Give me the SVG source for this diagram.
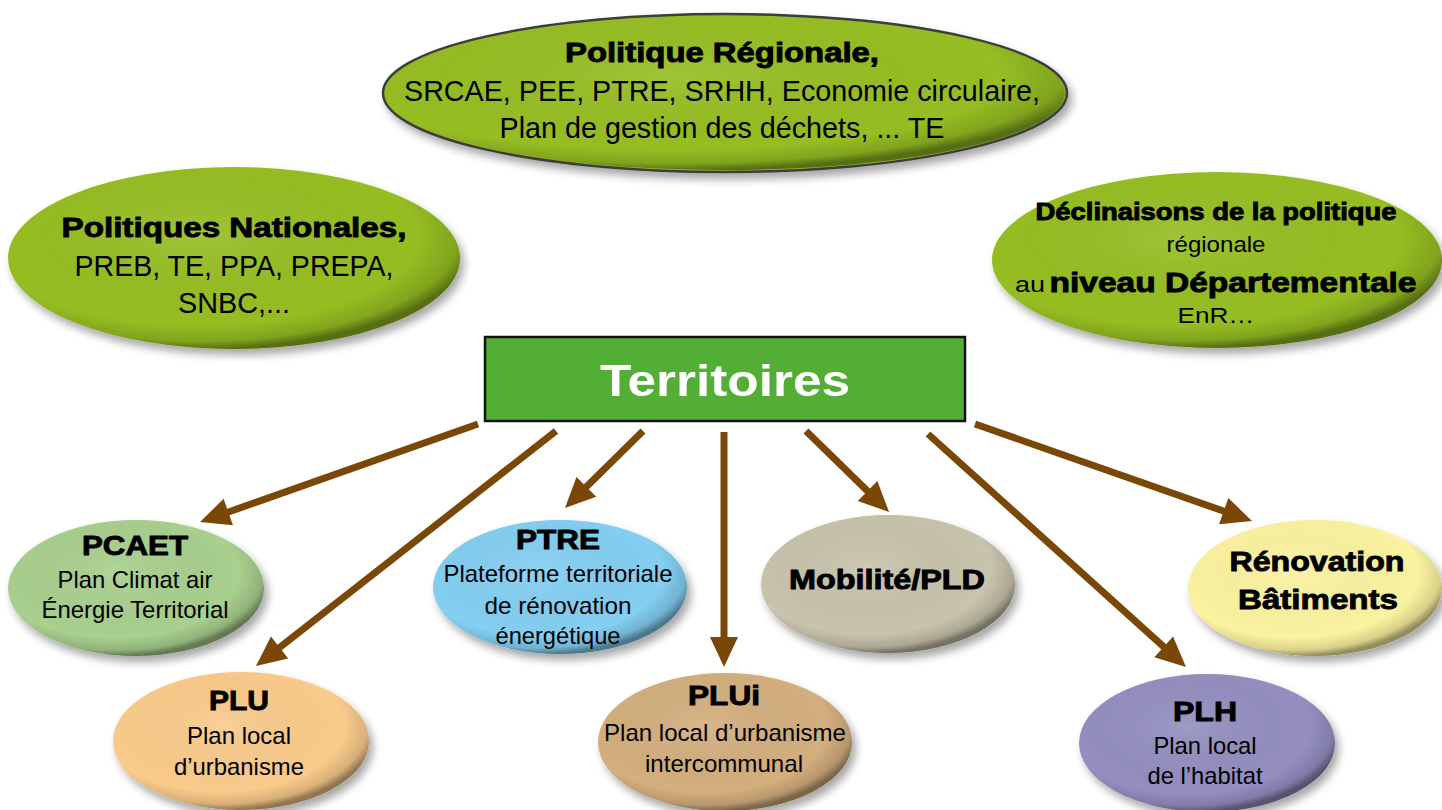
<svg xmlns="http://www.w3.org/2000/svg" width="1442" height="810" viewBox="0 0 1442 810">
  <style>
    .t { font-family: "Liberation Sans", Arial, sans-serif; fill: #000; text-anchor: middle; }
    .b { font-weight: bold; stroke: #000; stroke-width: 0.9; paint-order: stroke; }
    .r { font-weight: normal; }
    .shade { fill: url(#bevel); }
    .green { fill: #96BE21; }
    .arrow { stroke: #7A4706; stroke-width: 7; fill: none; marker-end: url(#ah); }
  </style>
  <defs>
    <radialGradient id="bevel" cx="0.42" cy="0.38" r="0.62">
      <stop offset="0" stop-color="#fff" stop-opacity="0.10"/>
      <stop offset="0.78" stop-color="#000" stop-opacity="0"/>
      <stop offset="0.93" stop-color="#000" stop-opacity="0.14"/>
      <stop offset="1" stop-color="#000" stop-opacity="0.42"/>
    </radialGradient>
    <filter id="sh" x="-10%" y="-10%" width="125%" height="130%">
      <feDropShadow dx="4" dy="6" stdDeviation="4" flood-color="#000" flood-opacity="0.35"/>
    </filter>
    <marker id="ah" markerUnits="userSpaceOnUse" markerWidth="32" markerHeight="32" refX="0" refY="14" orient="auto" overflow="visible">
      <path d="M-2,0 L28,14 L-2,28 Z" fill="#7A4706"/>
    </marker>
  </defs>
  <rect width="1442" height="810" fill="#fff"/>

  <g id="regionale">
    <ellipse cx="725" cy="93" rx="342" ry="79" class="green" filter="url(#sh)" stroke="#3c3c3c" stroke-width="2.5"/>
    <ellipse cx="725" cy="93" rx="340" ry="77" class="shade"/>
    <text class="t b" x="722" y="62" font-size="28" textLength="314" lengthAdjust="spacingAndGlyphs">Politique Régionale,</text>
    <text class="t r" x="722" y="101" font-size="30" textLength="636" lengthAdjust="spacingAndGlyphs">SRCAE, PEE, PTRE, SRHH, Economie circulaire,</text>
    <text class="t r" x="722" y="138" font-size="30" textLength="445" lengthAdjust="spacingAndGlyphs">Plan de gestion des déchets, ... TE</text>
  </g>

  <g id="nationales">
    <ellipse cx="234" cy="258" rx="226" ry="91" class="green" filter="url(#sh)"/>
    <ellipse cx="234" cy="258" rx="226" ry="91" class="shade"/>
    <text class="t b" x="234" y="237" font-size="28" textLength="345" lengthAdjust="spacingAndGlyphs">Politiques Nationales,</text>
    <text class="t r" x="234" y="276" font-size="29" textLength="319" lengthAdjust="spacingAndGlyphs">PREB, TE, PPA, PREPA,</text>
    <text class="t r" x="234" y="313" font-size="29" textLength="112" lengthAdjust="spacingAndGlyphs">SNBC,...</text>
  </g>

  <g id="departementale">
    <ellipse cx="1217" cy="260" rx="225" ry="88" class="green" filter="url(#sh)"/>
    <ellipse cx="1217" cy="260" rx="225" ry="88" class="shade"/>
    <text class="t b" x="1216" y="220" font-size="23" textLength="361" lengthAdjust="spacingAndGlyphs">Déclinaisons de la politique</text>
    <text class="t r" x="1216" y="252" font-size="22" textLength="99" lengthAdjust="spacingAndGlyphs">régionale</text>
    <text class="t r" x="1030" y="292" font-size="22" textLength="30" lengthAdjust="spacingAndGlyphs">au</text>
    <text class="t b" x="1233" y="292" font-size="28" textLength="367" lengthAdjust="spacingAndGlyphs">niveau Départementale</text>
    <text class="t r" x="1216" y="323" font-size="22" textLength="77" lengthAdjust="spacingAndGlyphs">EnR…</text>
  </g>

  <g id="territoires">
    <rect x="485" y="337" width="480" height="84" fill="#52AE35" stroke="#111" stroke-width="2.5"/>
    <text class="t" x="725" y="396" font-size="45" font-weight="bold" style="fill:#fff" textLength="250" lengthAdjust="spacingAndGlyphs">Territoires</text>
  </g>

  <g id="connectors">
    <line class="arrow" x1="478" y1="424" x2="226.4" y2="512.7"/>
    <line class="arrow" x1="556" y1="431" x2="278" y2="648.7"/>
    <line class="arrow" x1="643" y1="431" x2="584.9" y2="488.3"/>
    <line class="arrow" x1="724" y1="432" x2="724" y2="639"/>
    <line class="arrow" x1="806" y1="431" x2="869" y2="492.4"/>
    <line class="arrow" x1="928" y1="434" x2="1165.2" y2="648.2"/>
    <line class="arrow" x1="975" y1="424" x2="1225.6" y2="511.8"/>
  </g>

  <g id="pcaet">
    <ellipse cx="136" cy="588" rx="128" ry="68" fill="#A9D08E" filter="url(#sh)"/>
    <ellipse cx="136" cy="588" rx="128" ry="68" class="shade"/>
    <text class="t b" x="135" y="555" font-size="27" textLength="106" lengthAdjust="spacingAndGlyphs">PCAET</text>
    <text class="t r" x="135" y="588" font-size="24" textLength="155" lengthAdjust="spacingAndGlyphs">Plan Climat air</text>
    <text class="t r" x="135" y="618" font-size="24" textLength="187" lengthAdjust="spacingAndGlyphs">Énergie Territorial</text>
  </g>

  <g id="plu">
    <ellipse cx="241" cy="741" rx="128" ry="69" fill="#FACB8B" filter="url(#sh)"/>
    <ellipse cx="241" cy="741" rx="128" ry="69" class="shade"/>
    <text class="t b" x="239" y="710" font-size="27" textLength="60" lengthAdjust="spacingAndGlyphs">PLU</text>
    <text class="t r" x="239" y="744" font-size="24" textLength="104" lengthAdjust="spacingAndGlyphs">Plan local</text>
    <text class="t r" x="239" y="775" font-size="24" textLength="130" lengthAdjust="spacingAndGlyphs">d’urbanisme</text>
  </g>

  <g id="ptre">
    <ellipse cx="560" cy="587" rx="127" ry="67" fill="#84CFF2" filter="url(#sh)"/>
    <ellipse cx="560" cy="587" rx="127" ry="67" class="shade"/>
    <text class="t b" x="558" y="549" font-size="27" textLength="84" lengthAdjust="spacingAndGlyphs">PTRE</text>
    <text class="t r" x="558" y="582" font-size="24" textLength="229" lengthAdjust="spacingAndGlyphs">Plateforme territoriale</text>
    <text class="t r" x="558" y="614" font-size="24" textLength="147" lengthAdjust="spacingAndGlyphs">de rénovation</text>
    <text class="t r" x="558" y="644" font-size="24" textLength="125" lengthAdjust="spacingAndGlyphs">énergétique</text>
  </g>

  <g id="plui">
    <ellipse cx="725" cy="742" rx="127" ry="69" fill="#D4AF7E" filter="url(#sh)"/>
    <ellipse cx="725" cy="742" rx="127" ry="69" class="shade"/>
    <text class="t b" x="724" y="705" font-size="27" textLength="72" lengthAdjust="spacingAndGlyphs">PLUi</text>
    <text class="t r" x="725" y="741" font-size="24" textLength="242" lengthAdjust="spacingAndGlyphs">Plan local d’urbanisme</text>
    <text class="t r" x="724" y="772" font-size="24" textLength="158" lengthAdjust="spacingAndGlyphs">intercommunal</text>
  </g>

  <g id="mobilite">
    <ellipse cx="888" cy="584" rx="127" ry="69" fill="#C8C3AC" filter="url(#sh)"/>
    <ellipse cx="888" cy="584" rx="127" ry="69" class="shade"/>
    <text class="t b" x="887" y="589" font-size="27" textLength="196" lengthAdjust="spacingAndGlyphs">Mobilité/PLD</text>
  </g>

  <g id="renovation">
    <ellipse cx="1315" cy="588" rx="127" ry="68" fill="#FCF3A0" filter="url(#sh)"/>
    <ellipse cx="1315" cy="588" rx="127" ry="68" class="shade"/>
    <text class="t b" x="1317" y="571" font-size="28" textLength="175" lengthAdjust="spacingAndGlyphs">Rénovation</text>
    <text class="t b" x="1318" y="609" font-size="28" textLength="160" lengthAdjust="spacingAndGlyphs">Bâtiments</text>
  </g>

  <g id="plh">
    <ellipse cx="1207" cy="743" rx="128" ry="69" fill="#948FC0" filter="url(#sh)"/>
    <ellipse cx="1207" cy="743" rx="128" ry="69" class="shade"/>
    <text class="t b" x="1205" y="721" font-size="27" textLength="64" lengthAdjust="spacingAndGlyphs">PLH</text>
    <text class="t r" x="1205" y="754" font-size="24" textLength="103" lengthAdjust="spacingAndGlyphs">Plan local</text>
    <text class="t r" x="1205" y="784" font-size="24" textLength="115" lengthAdjust="spacingAndGlyphs">de l’habitat</text>
  </g>
</svg>
